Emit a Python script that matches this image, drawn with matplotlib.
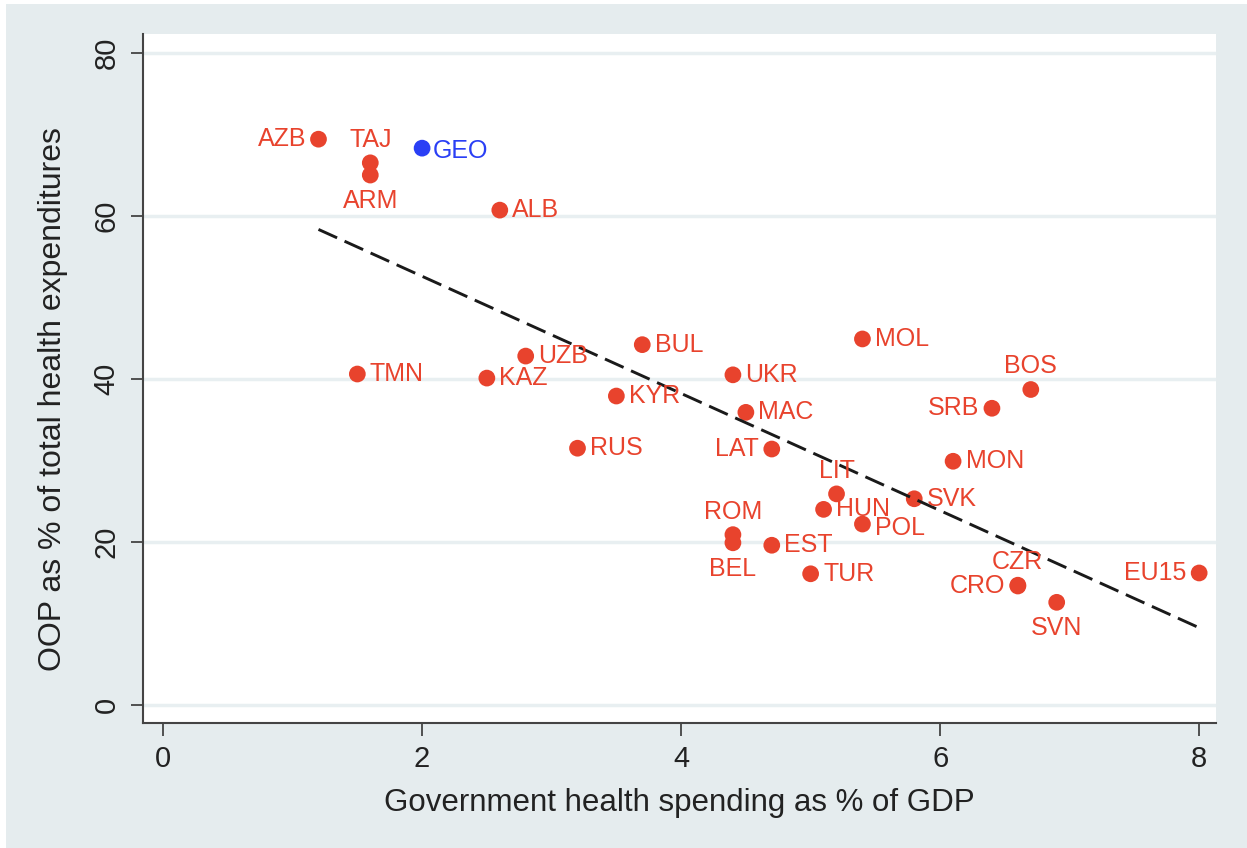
import numpy as np
import matplotlib
matplotlib.use("Agg")
import matplotlib.pyplot as plt
from matplotlib.patches import Rectangle

plt.rcParams['font.family'] = ['Liberation Sans', 'DejaVu Sans']

countries = ['AZB', 'TAJ', 'ARM', 'ALB', 'TMN', 'KAZ', 'UZB', 'BUL', 'KYR', 'RUS',
             'UKR', 'MAC', 'LAT', 'MOL', 'ROM', 'BEL', 'EST', 'TUR', 'LIT', 'HUN',
             'POL', 'SVK', 'MON', 'SRB', 'BOS', 'CZR', 'CRO', 'SVN', 'EU15']
gov_spend = [1.2, 1.6, 1.6, 2.6, 1.5, 2.5, 2.8, 3.7, 3.5, 3.2,
             4.4, 4.5, 4.7, 5.4, 4.4, 4.4, 4.7, 5.0, 5.2, 5.1,
             5.4, 5.8, 6.1, 6.4, 6.7, 6.6, 6.6, 6.9, 8.0]
oop_share = [69.4, 66.5, 65.0, 60.7, 40.6, 40.1, 42.8, 44.2, 37.9, 31.5,
             40.5, 35.9, 31.4, 44.9, 20.9, 19.9, 19.6, 16.1, 25.9, 24.0,
             22.2, 25.3, 29.9, 36.4, 38.7, 14.7, 14.6, 12.6, 16.2]
# label placement, Stata clock style: 3 right, 4 low right, 9 left, 12 above, 6 below
label_pos = [9, 12, 6, 3, 3, 3, 3, 3, 3, 3,
             3, 3, 9, 3, 12, 6, 3, 3, 12, 3,
             4, 3, 3, 9, 12, 12, 9, 6, 9]

geo_name = 'GEO'
geo_spend = 2.0
geo_oop = 68.3

red = '#e8432d'
blue = '#2a3ff5'
bg = '#e5ecee'

fig = plt.figure(figsize=(12.47, 8.48), dpi=100)
fig.patch.set_facecolor('white')
fig.patches.append(Rectangle((6 / 1247, 0), 1, 1 - 4 / 848, transform=fig.transFigure,
                             facecolor=bg, edgecolor='none', zorder=-10))

ax = fig.add_axes([143 / 1247, 1 - 723 / 848, (1216 - 143) / 1247, (723 - 34) / 848])
ax.set_facecolor('white')
ax.set_xlim(-0.155, 8.13)
ax.set_ylim(-2.2, 82.3)

for y in range(0, 81, 20):
    ax.axhline(y, color='#e8eff1', lw=2.5, zorder=0)

ax.scatter(gov_spend, oop_share, s=145, color=red, edgecolors='none', zorder=2)
ax.scatter([geo_spend], [geo_oop], s=145, color=blue, edgecolors='none', zorder=2)

# linear fit over all countries, drawn between the observed extremes
xs = np.array(gov_spend + [geo_spend])
ys = np.array(oop_share + [geo_oop])
slope, intercept = np.polyfit(xs, ys, 1)
xf = np.array([xs.min(), xs.max()])
ax.plot(xf, intercept + slope * xf, color='#1a1a1a', lw=2.1, dashes=(7, 2.8), zorder=3)

offsets = {3: (9, 0, 'left', 'center'), 4: (9, -3, 'left', 'center'),
           9: (-9, 0, 'right', 'center'),
           12: (0, 8, 'center', 'bottom'), 6: (0, -10, 'center', 'top')}
for name, x, y, p in zip(countries, gov_spend, oop_share, label_pos):
    dx, dy, ha, va = offsets[p]
    ax.annotate(name, (x, y), xytext=(dx, dy), textcoords='offset points',
                ha=ha, va=va, color=red, fontsize=18)
ax.annotate(geo_name, (geo_spend, geo_oop), xytext=(8, -2), textcoords='offset points',
            ha='left', va='center', color=blue, fontsize=18)

for side in ['top', 'right']:
    ax.spines[side].set_visible(False)
for side in ['left', 'bottom']:
    ax.spines[side].set_color('#444444')
    ax.spines[side].set_linewidth(1.5)

ax.set_xticks([0, 2, 4, 6, 8])
ax.set_yticks([0, 20, 40, 60, 80])
ax.tick_params(axis='both', length=9, width=1.3, color='#444444', labelsize=21,
               labelcolor='#222222', pad=7)
for lbl in ax.get_yticklabels():
    lbl.set_rotation(90)
    lbl.set_va('center')

ax.set_xlabel('Government health spending as % of GDP', fontsize=22.5, color='#222222')
ax.set_ylabel('OOP as % of total health expenditures', fontsize=23, color='#222222')
ax.xaxis.set_label_coords(0.5, -0.095)
ax.yaxis.set_label_coords(-0.07, 0.47)

fig.savefig('out.png', dpi=100, facecolor=fig.get_facecolor())
